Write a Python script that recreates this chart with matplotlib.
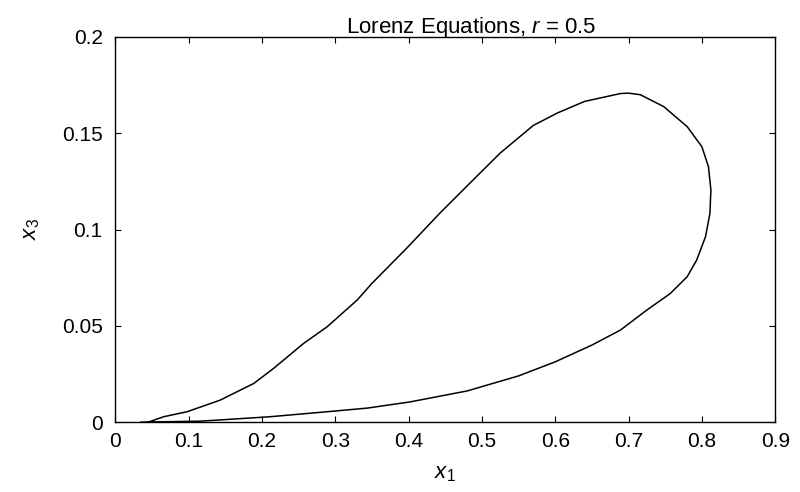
import numpy as np
import matplotlib
matplotlib.use('Agg')
import matplotlib.pyplot as plt
from matplotlib.ticker import FuncFormatter

plt.rcParams['font.family'] = ['Liberation Sans', 'DejaVu Sans']
plt.rcParams['mathtext.fontset'] = 'custom'
plt.rcParams['mathtext.it'] = 'Liberation Sans:italic'
plt.rcParams['mathtext.rm'] = 'Liberation Sans'

# trajectory (x1, x3), lower branch first, then up and back
x1 = [0.035, 0.116, 0.211, 0.289, 0.344, 0.402, 0.48, 0.55, 0.60, 0.65, 0.689,
      0.725, 0.757, 0.780, 0.793, 0.805, 0.811, 0.8123, 0.809, 0.800, 0.780,
      0.748, 0.716, 0.700, 0.689, 0.640, 0.603, 0.57, 0.525, 0.488, 0.443,
      0.398, 0.350, 0.330, 0.289, 0.257, 0.216, 0.189, 0.143, 0.098, 0.066, 0.045]
x3 = [0.0, 0.0005, 0.0028, 0.0054, 0.0073, 0.0105, 0.0162, 0.0240, 0.0313, 0.0400, 0.0478,
      0.0582, 0.0668, 0.0755, 0.0842, 0.0963, 0.1084, 0.1205, 0.1326, 0.1430, 0.1534,
      0.1638, 0.1700, 0.1708, 0.1706, 0.1665, 0.1605, 0.154, 0.1397, 0.1257, 0.1086,
      0.0905, 0.0720, 0.0634, 0.0495, 0.0409, 0.0279, 0.0201, 0.0114, 0.0054, 0.0028, 0.0]

xticks = [0, 0.1, 0.2, 0.3, 0.4, 0.5, 0.6, 0.7, 0.8, 0.9]
yticks = [0, 0.05, 0.1, 0.15, 0.2]

fig = plt.figure(figsize=(8, 4.92), dpi=100)
ax = fig.add_axes([0.144, 0.142, 0.825, 0.783])

ax.plot(x1, x3, color='black', lw=1.1)

ax.set_xlim(0, 0.9)
ax.set_ylim(0, 0.2)
ax.set_xticks(xticks)
ax.set_yticks(yticks)
fmt = FuncFormatter(lambda v, p: '0' if v == 0 else '%g' % v)
ax.xaxis.set_major_formatter(fmt)
ax.yaxis.set_major_formatter(fmt)
ax.tick_params(direction='in', length=4, width=0.8, top=True, right=True,
               labelsize=15, colors='black')
ax.tick_params(axis='x', pad=7)
ax.tick_params(axis='y', pad=9)
for s in ax.spines.values():
    s.set_linewidth(1.0)
    s.set_color('black')

ax.set_title('Lorenz Equations, $r$ = 0.5', fontsize=16, x=0.54, pad=3)
ax.set_xlabel('$x_1$', fontsize=16, labelpad=9)
ax.set_ylabel('$x_3$', fontsize=16, labelpad=14)

fig.savefig('out.png', dpi=100)
